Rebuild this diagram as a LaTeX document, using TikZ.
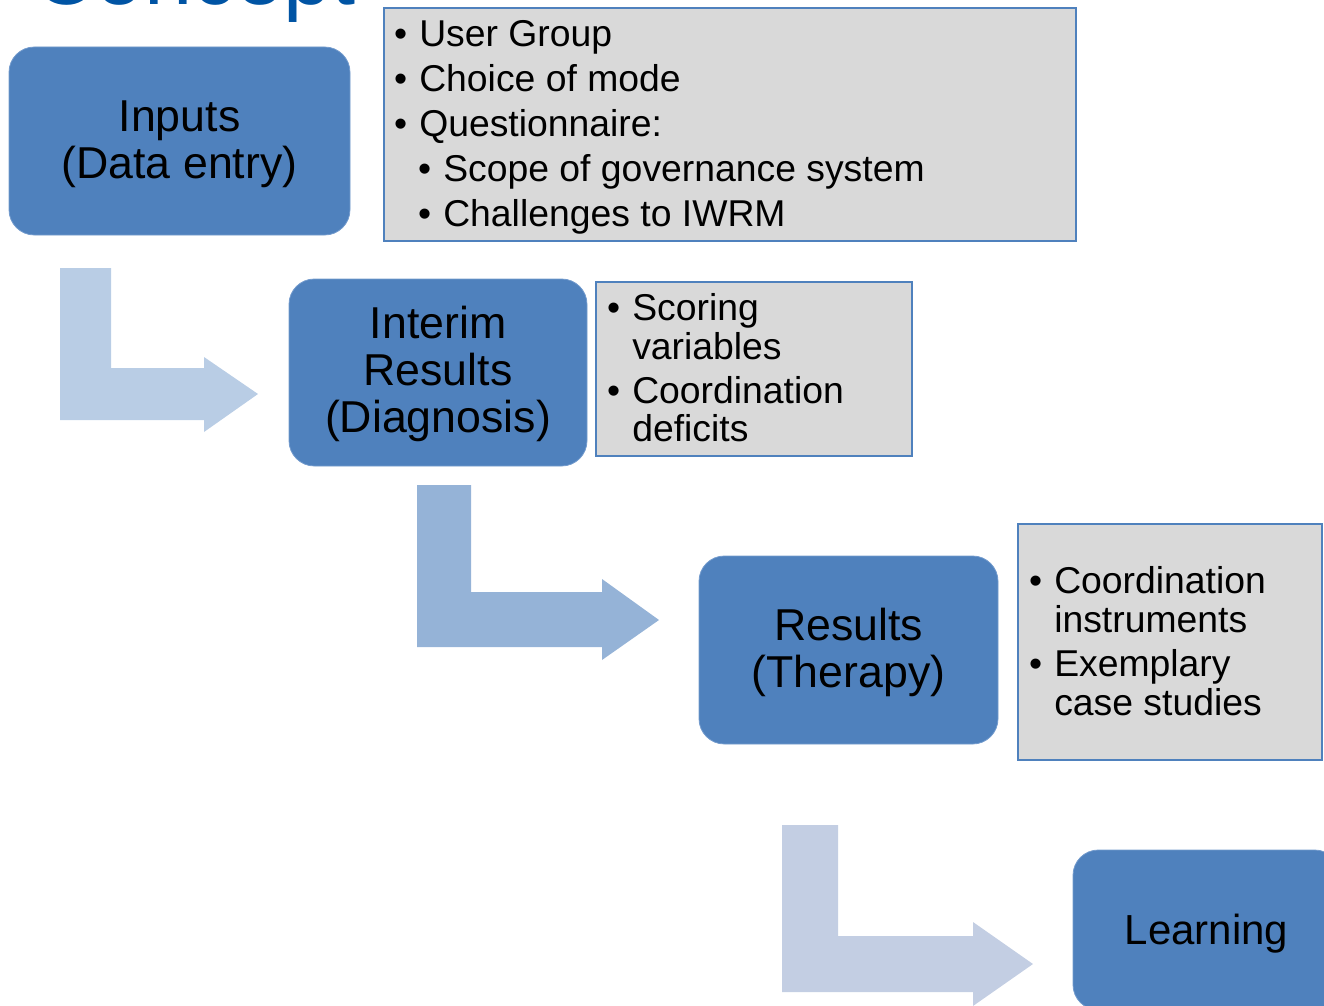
\documentclass[tikz,border=0pt]{standalone}
\usepackage{fontspec}
\setmainfont{Liberation Sans}
\definecolor{boxblue}{RGB}{79,129,189}
\definecolor{boxedge}{RGB}{115,155,205}
\definecolor{graybg}{RGB}{217,217,217}
\definecolor{arrowA}{RGB}{185,205,229}
\definecolor{arrowB}{RGB}{149,179,215}
\definecolor{arrowC}{RGB}{195,206,227}
\definecolor{titleblue}{RGB}{0,84,164}
\newcommand{\bulmark}{\llap{•\hspace{9pt}}}
\newcommand{\topgap}[1]{\rule{0pt}{#1}}
\begin{document}
\begin{tikzpicture}[x=0.75pt,y=-0.75pt,
  stage/.style={rectangle, rounded corners=19pt, fill=boxblue, draw=boxedge, line width=0.6pt, inner sep=0pt, align=center, text=black, font=\fontsize{33.5}{35.25}\selectfont},
  infobox/.style={rectangle, fill=graybg, draw=boxblue, line width=1.3pt, inner sep=0pt},
  item/.style={anchor=base west, inner sep=0pt, text=black, font=\fontsize{28}{30}\selectfont},
  blockarrow/.style={draw=none}
  ]
\path[use as bounding box] (0,0) rectangle (1324,1006);
\clip (0,0) rectangle (1324,1006);

% title (cut off at the top)
\node[anchor=base west, inner sep=0pt, text=titleblue, font=\fontsize{65}{70}\selectfont] (title) at (33,5) {Concept};

% stage boxes
\node[stage, minimum width=255.75pt, minimum height=141pt] (inputs) at (179.5,141) {\topgap{28.5pt}Inputs\\(Data entry)};
\node[stage, minimum width=223.5pt, minimum height=140.25pt] (interim) at (438,372.5) {\topgap{26pt}Interim\\Results\\(Diagnosis)};
\node[stage, minimum width=224.25pt, minimum height=141pt] (results) at (848.5,650) {\topgap{28.5pt}Results\\(Therapy)};
\node[stage, minimum width=200.25pt, minimum height=120pt, font=\fontsize{31.5}{34}\selectfont] (learning) at (1206.5,930) {\topgap{28pt}Learning};

% info boxes
\node[infobox, minimum width=519pt, minimum height=174.75pt] (info1) at (730,124.5) {};
\node[infobox, minimum width=237pt, minimum height=130.5pt] (info2) at (754,369) {};
\node[infobox, minimum width=228pt, minimum height=177pt] (info3) at (1170,642) {};

% info box 1 text
\node[item] (i1a) at (419,46.5) {\bulmark User Group};
\node[item] (i1b) at (419,92) {\bulmark Choice of mode};
\node[item] (i1c) at (419,136.5) {\bulmark Questionnaire:};
\node[item] (i1d) at (443,181.5) {\bulmark Scope of governance system};
\node[item] (i1e) at (443,226.5) {\bulmark Challenges to IWRM};

% info box 2 text
\node[item] (i2a) at (632,320) {\bulmark Scoring};
\node[item] (i2b) at (632,359) {variables};
\node[item] (i2c) at (632,403) {\bulmark Coordination};
\node[item] (i2d) at (632,441) {deficits};

% info box 3 text
\node[item] (i3a) at (1054,593) {\bulmark Coordination};
\node[item] (i3b) at (1054,632) {instruments};
\node[item] (i3c) at (1054,676) {\bulmark Exemplary};
\node[item] (i3d) at (1054,715) {case studies};

% bent block arrows
\fill[arrowA, blockarrow] (60,268) -- (111,268) -- (111,368) -- (204,368) -- (204,357) -- (258,394) -- (204,432) -- (204,420) -- (60,420) -- cycle;
\fill[arrowB, blockarrow] (417,485) -- (471,485) -- (471,592) -- (602,592) -- (602,579) -- (659,620) -- (602,660) -- (602,647) -- (417,647) -- cycle;
\fill[arrowC, blockarrow] (782,825) -- (838,825) -- (838,936) -- (973,936) -- (973,922) -- (1033,964) -- (973,1006) -- (973,992) -- (782,992) -- cycle;
\end{tikzpicture}
\end{document}
